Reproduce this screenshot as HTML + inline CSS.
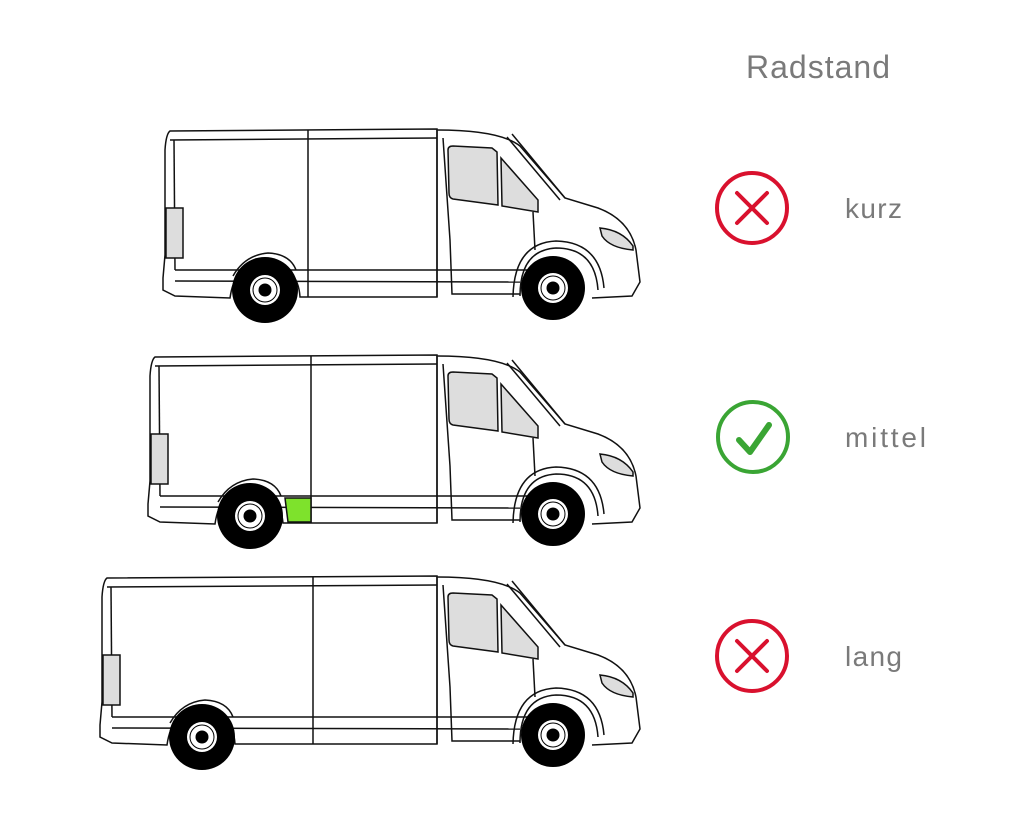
<!DOCTYPE html>
<html><head><style>
html,body{margin:0;padding:0;background:#fff;}
svg{display:block;}
text{font-family:"Liberation Sans","DejaVu Sans",sans-serif;fill:#7a7a7a;}
</style></head><body>
<svg width="1024" height="819" viewBox="0 0 1024 819" xmlns="http://www.w3.org/2000/svg">
<defs>
<g id="front" fill="none" stroke="#111" stroke-width="1.5">
  <path d="M437 130 Q500 130 520 146 L565 198 L598 208 Q630 220 636 250 L640 282 L632 296 L592 298" fill="#fff"/>
  <path d="M437 130 L437 297"/>
  <path d="M443 138 L450 240 L452 294 L520 294"/>
  <path d="M507 137 L560 200"/>
  <path d="M512 134 L565 198"/>
  <path d="M533 212 L535 250"/>
  <path d="M448 150 Q448 146 453 146 L492 148 L497 152 L498 205 L453 199 Q449 198 449 193 Z" fill="#ddd"/>
  <path d="M501 158 L538 200 L538 212 L502 206 Z" fill="#ddd"/>
  <path d="M600 228 Q622 230 633 246 L633 250 Q610 248 602 236 Z" fill="#ddd"/>
  <path d="M520 296 Q520 250 556 248 Q595 248 598 290"/>
  <path d="M513 297 Q514 243 556 241 Q600 242 604 288"/>
  <circle cx="553" cy="288" r="32" fill="#000" stroke="none"/>
  <circle cx="553" cy="288" r="15" fill="#fff" stroke="none"/>
  <circle cx="553" cy="288" r="12" fill="none" stroke="#000" stroke-width="1"/>
  <circle cx="553" cy="288" r="6.5" fill="#000" stroke="none"/>
</g>
</defs>

<text x="818" y="78" font-size="32" text-anchor="middle" textLength="144">Radstand</text>

<!-- Van 1 -->
<g fill="none" stroke="#111" stroke-width="1.5">
  <path d="M170 131 L437 129 L437 297 L300 297 Q298 265 265 262 Q235 262 230 298 L175 296 L163 290 L163 278 L165 255 L165 150 Q166 134 170 131 Z" fill="#fff"/>
  <path d="M170 140 L437 138"/>
  <path d="M174 140 L175 270"/>
  <path d="M308 130 L308 297"/>
  <path d="M175 270 L530 270"/>
  <path d="M175 281 L520 282"/>
  <path d="M166 208 L183 208 L183 258 L166 258 Z" fill="#ddd"/>
  <path d="M233 276 Q245 255 268 253 Q290 254 296 270"/>
</g>
<circle cx="265" cy="290" r="33" fill="#000"/>
<circle cx="265" cy="290" r="15" fill="#fff"/>
<circle cx="265" cy="290" r="12" fill="none" stroke="#000"/>
<circle cx="265" cy="290" r="6.5" fill="#000"/>
<use href="#front"/>

<!-- Van 2 -->
<g transform="translate(0,226)">
<g fill="none" stroke="#111" stroke-width="1.5">
  <path d="M155 131 L437 129 L437 297 L312 297 L283 297 Q280 265 250 262 Q220 262 215 298 L160 296 L148 290 L148 278 L150 255 L150 150 Q151 134 155 131 Z" fill="#fff"/>
  <path d="M155 140 L437 138"/>
  <path d="M159 140 L160 270"/>
  <path d="M311 130 L311 297"/>
  <path d="M160 270 L530 270"/>
  <path d="M160 281 L520 282"/>
  <path d="M151 208 L168 208 L168 258 L151 258 Z" fill="#ddd"/>
  <path d="M218 276 Q230 255 253 253 Q275 254 281 270"/>
  <path d="M285 272 L311 272 L311 296 L288 296 Z" fill="#7ee22c"/>
</g>
<circle cx="250" cy="290" r="33" fill="#000"/>
<circle cx="250" cy="290" r="15" fill="#fff"/>
<circle cx="250" cy="290" r="12" fill="none" stroke="#000"/>
<circle cx="250" cy="290" r="6.5" fill="#000"/>
<use href="#front"/>
</g>

<!-- Van 3 -->
<g transform="translate(0,447)">
<g fill="none" stroke="#111" stroke-width="1.5">
  <path d="M107 131 L437 129 L437 297 L235 297 Q233 265 202 262 Q172 262 167 298 L112 296 L100 290 L100 278 L102 255 L102 150 Q103 134 107 131 Z" fill="#fff"/>
  <path d="M107 140 L437 138"/>
  <path d="M111 140 L112 270"/>
  <path d="M313 130 L313 297"/>
  <path d="M112 270 L530 270"/>
  <path d="M112 281 L520 282"/>
  <path d="M103 208 L120 208 L120 258 L103 258 Z" fill="#ddd"/>
  <path d="M170 276 Q182 255 205 253 Q227 254 233 270"/>
</g>
<circle cx="202" cy="290" r="33" fill="#000"/>
<circle cx="202" cy="290" r="15" fill="#fff"/>
<circle cx="202" cy="290" r="12" fill="none" stroke="#000"/>
<circle cx="202" cy="290" r="6.5" fill="#000"/>
<use href="#front"/>
</g>

<!-- Icons -->
<g fill="none" stroke="#d9112e" stroke-width="4" stroke-linecap="round">
  <circle cx="752" cy="208" r="35"/>
  <path d="M737 193 L767 223 M767 193 L737 223"/>
  <circle cx="752" cy="656" r="35"/>
  <path d="M737 641 L767 671 M767 641 L737 671"/>
</g>
<g fill="none" stroke="#3aa534" stroke-width="4" stroke-linecap="round">
  <circle cx="753" cy="437" r="35"/>
  <path d="M739 440 L750 452 L769 425" stroke-width="6" stroke-linejoin="round"/>
</g>

<text x="845" y="218" font-size="28" textLength="57">kurz</text>
<text x="845" y="447" font-size="28" textLength="81">mittel</text>
<text x="845" y="666" font-size="28" textLength="57">lang</text>
</svg>
</body></html>
